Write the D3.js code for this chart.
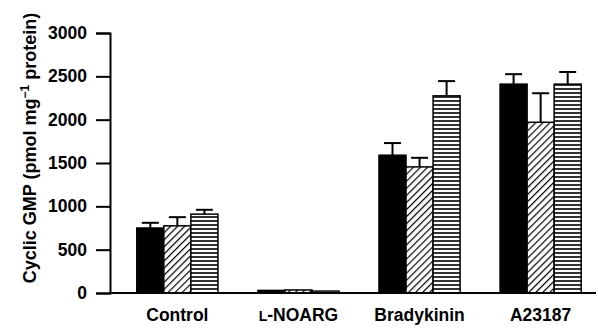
<!DOCTYPE html>
<html>
<head>
<meta charset="utf-8">
<script src="https://cdn.jsdelivr.net/npm/d3@7"></script>
<style>
  body { margin: 0; background: #fff; }
  text { font-family: "Liberation Sans", Arial, sans-serif; }
</style>
</head>
<body>
<script>
// groups on the x axis, three treatments per group
const categories = ["Control", "L-NOARG", "Bradykinin", "A23187"];
const series = ["solid", "hatched", "striped"];
const solidVals = [750, 30, 1590, 2410];
const solidErr = [60, 0, 140, 115];
const hatchedVals = [775, 35, 1455, 1970];
const hatchedErr = [100, 0, 105, 335];
const stripedVals = [910, 22, 2275, 2410];
const stripedErr = [50, 0, 170, 140];
const yTicks = [0, 500, 1000, 1500, 2000, 2500, 3000];

const width = 598, height = 329;

const svg = d3.select("body").append("svg")
  .attr("width", width)
  .attr("height", height);

const defs = svg.append("defs");
const diag = defs.append("pattern")
  .attr("id", "diag")
  .attr("patternUnits", "userSpaceOnUse")
  .attr("width", 5).attr("height", 5)
  .attr("patternTransform", "rotate(45)");
diag.append("rect").attr("width", 5).attr("height", 5).attr("fill", "#fff");
diag.append("line").attr("x1", 0).attr("y1", 0).attr("x2", 0).attr("y2", 5)
  .attr("stroke", "#000").attr("stroke-width", 2.4);

const horiz = defs.append("pattern")
  .attr("id", "horiz")
  .attr("patternUnits", "userSpaceOnUse")
  .attr("width", 6).attr("height", 4);
horiz.append("rect").attr("width", 6).attr("height", 4).attr("fill", "#fff");
horiz.append("line").attr("x1", 0).attr("y1", 1).attr("x2", 6).attr("y2", 1)
  .attr("stroke", "#000").attr("stroke-width", 1.6);

const fills = { solid: "#000", hatched: "url(#diag)", striped: "url(#horiz)" };

const x0 = d3.scaleBand()
  .domain(categories)
  .range([115, 603])
  .paddingInner(0.33)
  .paddingOuter(0.18);

const x1 = d3.scaleBand()
  .domain(series)
  .range([0, x0.bandwidth()]);

const y = d3.scaleLinear()
  .domain([0, 3000])
  .range([293, 33]);

const rows = [];
categories.forEach((c, i) => {
  rows.push({ cat: c, s: "solid", v: solidVals[i], e: solidErr[i] });
  rows.push({ cat: c, s: "hatched", v: hatchedVals[i], e: hatchedErr[i] });
  rows.push({ cat: c, s: "striped", v: stripedVals[i], e: stripedErr[i] });
});

// error bars (drawn first so bar tops cover the stem base)
const eb = svg.append("g")
  .attr("stroke", "#000")
  .attr("stroke-width", 2)
  .selectAll("g")
  .data(rows.filter(d => d.e > 0))
  .join("g");

eb.append("line")
  .attr("x1", d => x0(d.cat) + x1(d.s) + x1.bandwidth() / 2)
  .attr("x2", d => x0(d.cat) + x1(d.s) + x1.bandwidth() / 2)
  .attr("y1", d => y(d.v))
  .attr("y2", d => y(d.v + d.e));

eb.append("line")
  .attr("x1", d => x0(d.cat) + x1(d.s) + x1.bandwidth() / 2 - 8.5)
  .attr("x2", d => x0(d.cat) + x1(d.s) + x1.bandwidth() / 2 + 8.5)
  .attr("y1", d => y(d.v + d.e))
  .attr("y2", d => y(d.v + d.e));

svg.append("g")
  .selectAll("rect")
  .data(rows)
  .join("rect")
  .attr("x", d => x0(d.cat) + x1(d.s))
  .attr("y", d => y(d.v))
  .attr("width", x1.bandwidth())
  .attr("height", d => y(0) - y(d.v))
  .attr("fill", d => fills[d.s])
  .attr("stroke", "#000")
  .attr("stroke-width", 1.5);

// y axis
const yAxis = svg.append("g")
  .attr("transform", "translate(110,0)")
  .call(d3.axisLeft(y).tickValues(yTicks).tickSize(14).tickPadding(9).tickFormat(d3.format("d")));
yAxis.select(".domain").attr("stroke-width", 2);
yAxis.selectAll(".tick line").attr("stroke-width", 2);
yAxis.selectAll("text")
  .style("font-size", "17.5px")
  .style("font-weight", "bold")
  .attr("fill", "#000");

// baseline
svg.append("line")
  .attr("x1", 109).attr("x2", 596)
  .attr("y1", y(0)).attr("y2", y(0))
  .attr("stroke", "#000").attr("stroke-width", 2);

// category labels
svg.append("g")
  .selectAll("text")
  .data(categories)
  .join("text")
  .attr("x", d => x0(d) + x0.bandwidth() / 2)
  .attr("y", 321)
  .attr("text-anchor", "middle")
  .style("font-size", "17.5px")
  .style("font-weight", "bold")
  .each(function (d) {
    const t = d3.select(this);
    if (d === "L-NOARG") {
      t.append("tspan").style("font-size", "14px").text("L");
      t.append("tspan").text("-NOARG");
    } else {
      t.text(d);
    }
  });

// y axis title
const yl = svg.append("text")
  .attr("transform", "translate(36,148) rotate(-90)")
  .attr("text-anchor", "middle")
  .style("font-size", "18px")
  .style("font-weight", "bold");
yl.append("tspan").text("Cyclic GMP (pmol mg");
yl.append("tspan").attr("dy", -7).style("font-size", "12px").text("\u22121");
yl.append("tspan").attr("dy", 7).text(" protein)");
</script>
</body>
</html>
